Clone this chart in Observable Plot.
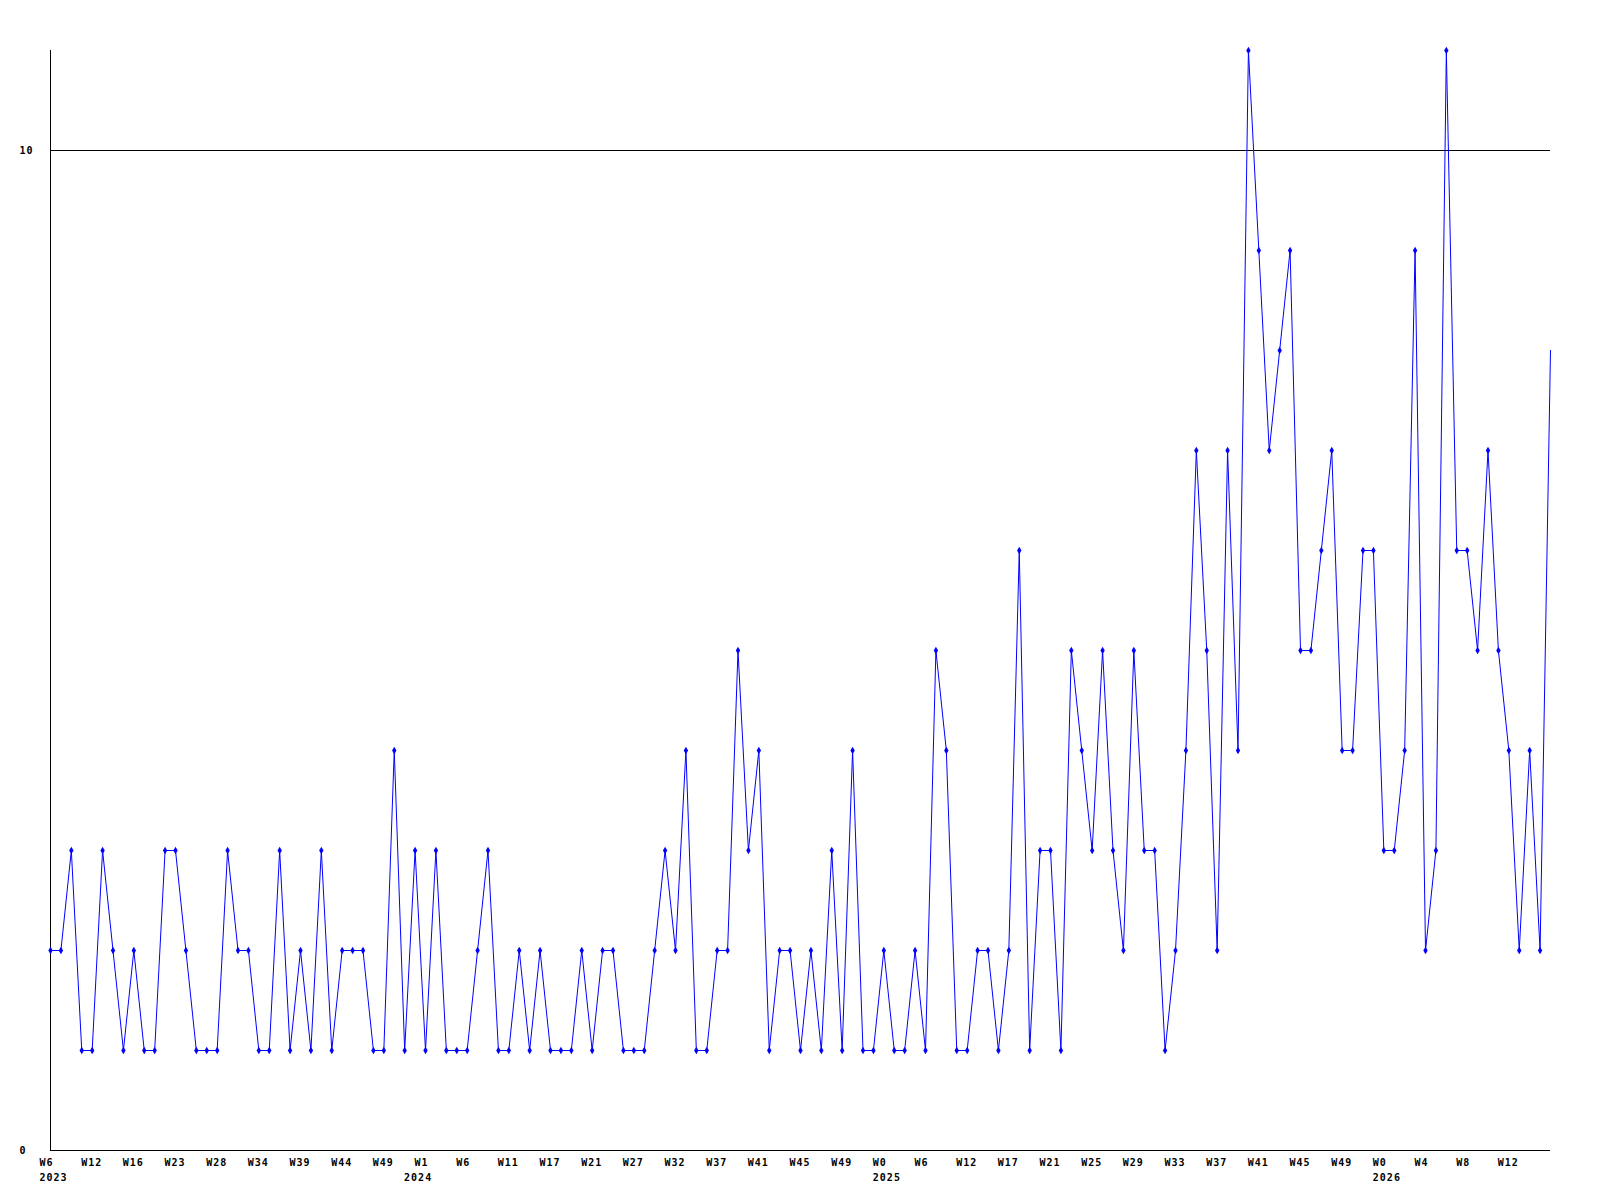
<!DOCTYPE html>
<html>
<head>
<meta charset="utf-8">
<script src="https://cdn.jsdelivr.net/npm/d3@7"></script>
<script src="https://cdn.jsdelivr.net/npm/@observablehq/plot@0.6"></script>
<style>
  html, body { margin: 0; padding: 0; background: #ffffff; }
  #chart svg { display: block; }
</style>
</head>
<body>
<div id="chart"></div>
<script>
// Weekly counts, one per point
const values = [
  2,2,3,1,1,3,2,1,2,1,
  1,3,3,2,1,1,1,3,2,2,
  1,1,3,1,2,1,3,1,2,2,
  2,1,1,4,1,3,1,3,1,1,
  1,2,3,1,1,2,1,2,1,1,
  1,2,1,2,2,1,1,1,2,3,
  2,4,1,1,2,2,5,3,4,1,
  2,2,1,2,1,3,1,4,1,1,
  2,1,1,2,1,5,4,1,1,2,
  2,1,2,6,1,3,3,1,5,4,
  3,5,3,2,5,3,3,1,2,4,
  7,5,2,7,4,11,9,7,8,9,
  5,5,6,7,4,4,6,6,3,3,
  4,9,2,3,11,6,6,5,7,5,
  4,2,4,2,8
];

// X tick labels (one every 4 points)
const weekLabels = [
  "W6","W12","W16","W23","W28","W34","W39","W44","W49",
  "W1","W6","W11","W17","W21","W27","W32","W37","W41","W45","W49",
  "W0","W6","W12","W17","W21","W25","W29","W33","W37","W41","W45","W49",
  "W0","W4","W8","W12"
];
const tickStep = 4;

// Year labels and the point index they sit under
const yearNames = ["2023","2024","2025","2026"];
const yearIndex = [0, 35, 80, 128];

// Y tick labels
const yTicks = [0, 10];

const weekTicks = weekLabels.map((label, k) => ({i: k * tickStep, label}));
const yearTicks = yearNames.map((label, k) => ({i: yearIndex[k], label}));
const pts = values.map((v, i) => ({i, v}));

const chart = Plot.plot({
  width: 1600,
  height: 1200,
  marginLeft: 50,
  marginRight: 50,
  marginTop: 50,
  marginBottom: 50,
  x: {domain: [0, values.length - 1], axis: null},
  y: {domain: [0, 11], axis: null},
  style: {
    fontFamily: "'DejaVu Sans Mono', monospace",
    fontWeight: "bold",
    fontSize: "10px",
    letterSpacing: "1px",
    background: "#ffffff",
    color: "#000000"
  },
  marks: [
    Plot.ruleY([10], {stroke: "#000000", strokeWidth: 1}),
    Plot.ruleY([0], {stroke: "#000000", strokeWidth: 1}),
    Plot.ruleX([0], {y1: 0, y2: 11, stroke: "#000000", strokeWidth: 1}),
    Plot.line(pts, {x: "i", y: "v", stroke: "#0000ff", strokeWidth: 1}),
    Plot.dot(pts, {
      x: "i", y: "v", symbol: "diamond", r: 2.3, fill: "#0000ff", stroke: "none",
      filter: d => d.i < values.length - 1
    }),
    Plot.text(yTicks, {
      x: 0, y: d => d, text: d => String(d),
      textAnchor: "start", dx: -31, fill: "#000000"
    }),
    Plot.text(weekTicks, {
      x: "i", y: 0, text: "label", textAnchor: "start", dx: -11, dy: 12, fill: "#000000"
    }),
    Plot.text(yearTicks, {
      x: "i", y: 0, text: "label", textAnchor: "start", dx: -11, dy: 27, fill: "#000000"
    })
  ]
});

document.getElementById("chart").appendChild(chart);
</script>
</body>
</html>
